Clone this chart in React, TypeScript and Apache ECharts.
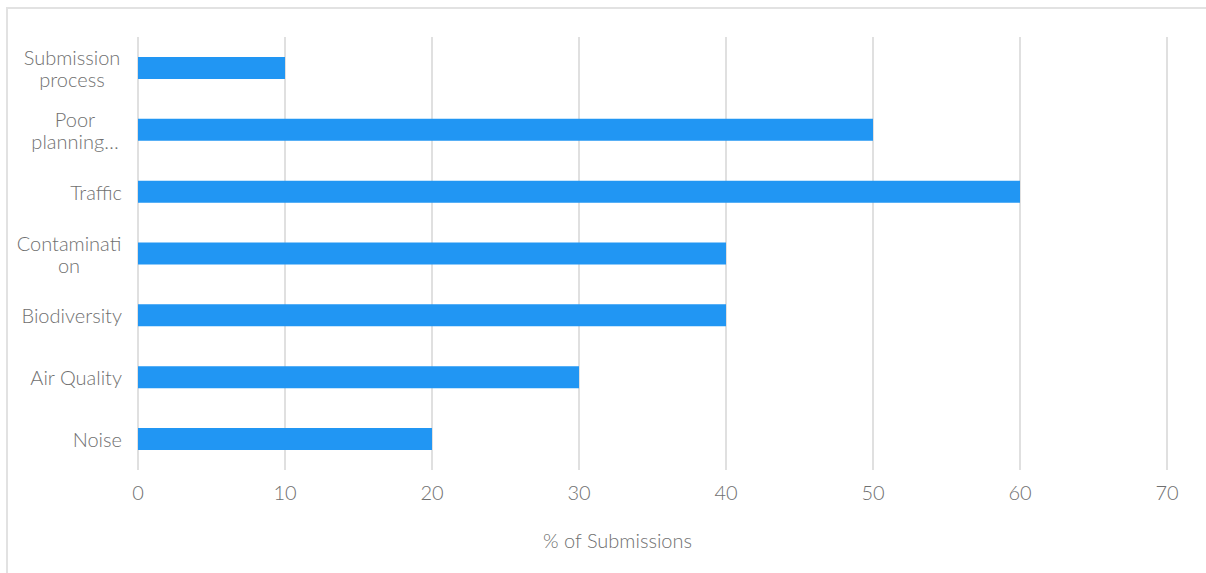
import React, { useEffect, useRef } from "react";
import * as echarts from "echarts";

const categories = [
  "Noise",
  "Air Quality",
  "Biodiversity",
  "Contamination",
  "Traffic",
  "Poor planning…",
  "Submission process",
];
const values = [20, 30, 40, 40, 60, 50, 10];
const xTicks = { min: 0, max: 70, interval: 10 };
const axisTitle = "% of Submissions";

// wrapped label lines as displayed in the picture
const wrapped: Record<string, { lines: string[]; key: string }> = {
  "Submission process": { lines: ["Submission", "process"], key: "s" },
  "Poor planning…": { lines: ["Poor", "planning…"], key: "p" },
  Contamination: { lines: ["Contaminati", "on"], key: "c" },
};

const FONT = "Lato";
const TEXT = "#707070";
const FS = 20;

export default function App() {
  const ref = useRef<HTMLDivElement>(null);
  useEffect(() => {
    if (!ref.current) return;
    const chart = echarts.init(ref.current, undefined, { renderer: "svg" });
    const richBase = { fontFamily: FONT, fontWeight: 300, fontSize: FS, color: TEXT, lineHeight: 22, align: "center" as const };
    chart.setOption({
      animation: false,
      grid: { left: 138, right: 39, top: 37, bottom: 103, containLabel: false },
      xAxis: {
        type: "value",
        min: xTicks.min,
        max: xTicks.max,
        interval: xTicks.interval,
        axisLine: { show: false },
        axisTick: { show: false },
        splitLine: { show: true, lineStyle: { color: "#e0e0e0", width: 2 } },
        axisLabel: { color: TEXT, fontFamily: FONT, fontWeight: 300, fontSize: FS, margin: 12 },
        name: axisTitle,
        nameLocation: "middle",
        nameGap: 60,
        nameTextStyle: { color: TEXT, fontFamily: FONT, fontWeight: 300, fontSize: FS, padding: [0, 70, 0, 0] },
      },
      yAxis: {
        type: "category",
        data: categories,
        axisLine: { show: false },
        axisTick: { show: false },
        axisLabel: {
          color: TEXT,
          fontFamily: FONT,
          fontWeight: 300,
          fontSize: FS,
          margin: 16,
          lineHeight: 22,
          formatter: (v: string) => {
            const w = wrapped[v];
            if (!w) return v;
            return w.lines.map((l) => `{${w.key}|${l}}`).join("\n");
          },
          rich: {
            s: { ...richBase, width: 100 },
            p: { ...richBase, width: 94 },
            c: { ...richBase, width: 106 },
          },
        },
      },
      series: [
        {
          type: "bar",
          data: values,
          barWidth: 22,
          itemStyle: { color: "#2196F3" },
        },
      ],
    });
    return () => chart.dispose();
  }, []);
  return (
    <div style={{ position: "absolute", left: 0, top: 0, width: 1206, height: 573, overflow: "hidden" }}>
      <div
        style={{
          position: "absolute",
          left: 6,
          top: 7,
          width: 1400,
          height: 800,
          border: "2px solid #e2e2e2",
          boxSizing: "border-box",
        }}
      />
      <div ref={ref} style={{ position: "absolute", left: 0, top: 0, width: 1206, height: 573 }} />
    </div>
  );
}
